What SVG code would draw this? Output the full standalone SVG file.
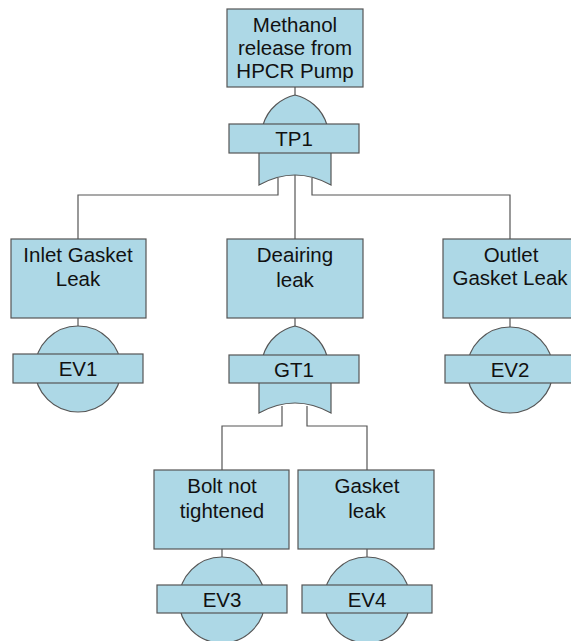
<svg xmlns="http://www.w3.org/2000/svg" width="571" height="641" viewBox="0 0 571 641">
<style>
.b{fill:#add8e6;stroke:#555;stroke-width:1.2}
.c{fill:none;stroke:#555;stroke-width:1.2}
text{font-family:"Liberation Sans",Arial,sans-serif;font-size:20.5px;fill:#111;text-anchor:middle}
</style>
<rect width="571" height="641" fill="#fff"/>
<g id="connectors">
<path class="c" d="M295,87V96"/>
<path class="c" d="M295,174V239"/>
<path class="c" d="M278,178V195H78V239"/>
<path class="c" d="M312,178V195H510V239"/>
<path class="c" d="M78,318V326"/>
<path class="c" d="M295,318V327"/>
<path class="c" d="M510,318V327"/>
<path class="c" d="M282,406V426H222V470"/>
<path class="c" d="M307,406V426H367V470"/>
<path class="c" d="M222,549V557"/>
<path class="c" d="M367,549V557"/>
</g>
<g id="top">
<rect class="b" x="227" y="9" width="136" height="78"/>
<text x="295" y="32">Methanol</text>
<text x="295" y="55">release from</text>
<text x="295" y="78">HPCR Pump</text>
</g>
<g id="TP1">
<path class="b" d="M263,125C268,108 282,98 295,95C308,98 322,108 327,125Z"/>
<path class="b" d="M259,152V185Q295,165 331,185V152Z"/>
<rect class="b" x="229" y="124" width="130" height="29"/>
<text x="294" y="146">TP1</text>
</g>
<g id="inlet">
<rect class="b" x="11" y="239" width="135" height="79"/>
<text x="78" y="262">Inlet Gasket</text>
<text x="78" y="286">Leak</text>
</g>
<g id="EV1">
<circle class="b" cx="78" cy="369" r="43"/>
<rect class="b" x="13" y="354" width="130" height="29"/>
<text x="78" y="376">EV1</text>
</g>
<g id="deairing">
<rect class="b" x="227" y="239" width="136" height="79"/>
<text x="295" y="262">Deairing</text>
<text x="295" y="287">leak</text>
</g>
<g id="GT1">
<path class="b" d="M263,356C268,339 282,329 295,326C308,329 322,339 327,356Z"/>
<path class="b" d="M259,382V413Q295,393 331,413V382Z"/>
<rect class="b" x="229" y="355" width="130" height="28"/>
<text x="294" y="377">GT1</text>
</g>
<g id="outlet">
<rect class="b" x="443" y="239" width="137" height="79"/>
<text x="511" y="262">Outlet</text>
<text x="510" y="285">Gasket Leak</text>
</g>
<g id="EV2">
<circle class="b" cx="510" cy="370" r="43"/>
<rect class="b" x="445" y="355" width="132" height="28"/>
<text x="510" y="377">EV2</text>
</g>
<g id="bolt">
<rect class="b" x="154" y="470" width="135" height="79"/>
<text x="222" y="493">Bolt not</text>
<text x="222" y="518">tightened</text>
</g>
<g id="EV3">
<circle class="b" cx="222" cy="600" r="43"/>
<rect class="b" x="157" y="585" width="130" height="28"/>
<text x="222" y="607">EV3</text>
</g>
<g id="gasket">
<rect class="b" x="298" y="470" width="136" height="79"/>
<text x="367" y="493">Gasket</text>
<text x="367" y="518">leak</text>
</g>
<g id="EV4">
<circle class="b" cx="367" cy="600" r="43"/>
<rect class="b" x="302" y="585" width="130" height="28"/>
<text x="367" y="607">EV4</text>
</g>
</svg>
